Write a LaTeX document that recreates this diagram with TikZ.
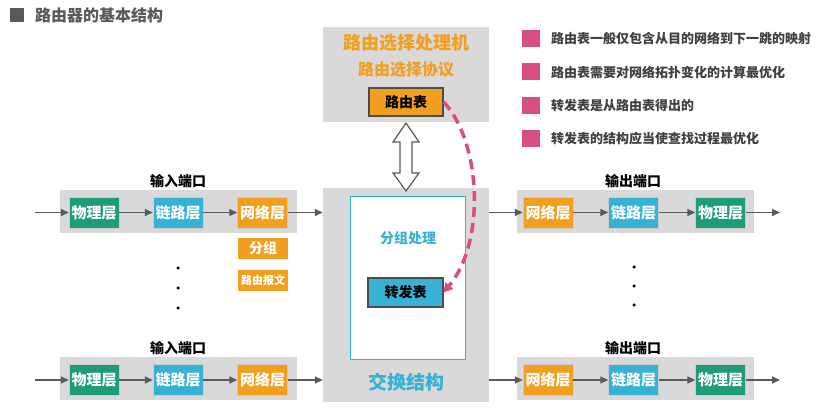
\documentclass[tikz,border=0pt]{standalone}
\usepackage{fontspec}
\setmainfont{Noto Sans CJK SC}
\usetikzlibrary{arrows.meta,calc}
\definecolor{cgreen}{HTML}{1E9B78}
\definecolor{ccyan}{HTML}{37B1D4}
\definecolor{corange}{HTML}{F29F1F}
\definecolor{cgray}{HTML}{D9D9D9}
\definecolor{cpink}{HTML}{D84E80}
\definecolor{cdark}{HTML}{404040}
\definecolor{carrow}{HTML}{5A5A5A}
\tikzset{
  port/.style={fill=cgray,draw=none,minimum width=237pt,minimum height=43pt,inner sep=0pt},
  layer/.style={draw=white!80!black,line width=0.4pt,text=white,font=\fontsize{15}{15}\selectfont\bfseries,minimum width=50pt,minimum height=31pt,inner sep=0pt},
  phy/.style={layer,fill=cgreen},
  lnk/.style={layer,fill=ccyan},
  net/.style={layer,fill=corange},
  plabel/.style={font=\fontsize{14}{14}\selectfont\bfseries,text=black,inner sep=0pt},
  arr/.style={draw=carrow,line width=1.6pt,-{Triangle[length=8pt,width=7pt]}},
  dotm/.style={circle,fill=black,inner sep=0pt,minimum size=3.5pt},
  bsq/.style={fill=cpink,minimum width=18pt,minimum height=17pt,inner sep=0pt},
  btxt/.style={anchor=west,text=cdark,font=\fontsize{13}{13}\selectfont\bfseries,inner sep=0pt},
  tbl/.style={draw=black!70,line width=1.2pt,font=\fontsize{14}{14}\selectfont\bfseries,text=black,inner sep=0pt},
  small/.style={fill=corange,text=white,inner sep=0pt,minimum width=50pt,minimum height=21pt}
}
\begin{document}
\begin{tikzpicture}[x=1pt,y=-1pt]
\useasboundingbox (0,0) rectangle (839,414);
% title
\node[fill=black!65,minimum size=14pt,inner sep=0pt] (tsq) at (17,15) {};
\node[anchor=west,text=black!65,font=\fontsize{16}{16}\selectfont\bfseries,inner sep=0pt] (title) at (35,15) {路由器的基本结构};
% routing processor
\node[fill=cgray,minimum width=166pt,minimum height=95pt,inner sep=0pt] (proc) at (406,74.5) {};
\node[text=corange,font=\fontsize{18}{18}\selectfont\bfseries,inner sep=0pt] (proct) at (406,43) {路由选择处理机};
\node[text=corange,font=\fontsize{16}{16}\selectfont\bfseries,inner sep=0pt] (procs) at (406,70) {路由选择协议};
\node[tbl,fill=corange,minimum width=74pt,minimum height=28pt] (rt) at (406,102) {路由表};
% switching fabric
\node[fill=cgray,minimum width=166pt,minimum height=214pt,inner sep=0pt] (fab) at (406,295) {};
\node[fill=white,draw=ccyan,line width=1.5pt,minimum width=115pt,minimum height=163pt,inner sep=0pt] (inner) at (408,278) {};
\node[text=ccyan,font=\fontsize{14}{14}\selectfont\bfseries,inner sep=0pt] (pp) at (408,238) {分组处理};
\node[tbl,fill=ccyan,minimum width=75pt,minimum height=29pt] (ft) at (405.5,292.5) {转发表};
\node[text=ccyan,font=\fontsize{19}{19}\selectfont\bfseries,inner sep=0pt] (fabt) at (406,382) {交换结构};
% hollow double arrow
\draw[draw=black!65,fill=white,line width=1.2pt,line join=miter]
  (406,123) -- (419,142) -- (412,142) -- (412,173) -- (419,173) -- (406,191)
  -- (393,173) -- (400,173) -- (400,142) -- (393,142) -- cycle;
% dashed curve
\draw[cpink,line width=3.5pt,dash pattern=on 10pt off 6pt,-{Triangle[length=9pt,width=10pt]}]
  (rt.east) .. controls (480,140) and (487,240) .. (ft.east);
% input and output ports
\foreach \r/\y/\ly in {1/211.5/181, 2/379/348}{
  \node[port] (inp\r) at (178.5,\y) {};
  \node[plabel] (inl\r) at (178,\ly) {输入端口};
  \node[phy] (iphy\r) at (94,\y+1) {物理层};
  \node[lnk] (ilnk\r) at (178,\y+1) {链路层};
  \node[net] (inet\r) at (262.5,\y+1) {网络层};
  \coordinate (iin\r) at (35,\y+1);
  \draw[arr] (iin\r) -- (iphy\r);
  \draw[arr] (iphy\r) -- (ilnk\r);
  \draw[arr] (ilnk\r) -- (inet\r);
  \draw[arr] (inet\r) -- (inet\r -| fab.west);
  \node[port] (outp\r) at (635,\y) {};
  \node[plabel] (outl\r) at (633,\ly) {输出端口};
  \node[net] (onet\r) at (548,\y+1) {网络层};
  \node[lnk] (olnk\r) at (633.5,\y+1) {链路层};
  \node[phy] (ophy\r) at (720.5,\y+1) {物理层};
  \coordinate (oout\r) at (780,\y+1);
  \draw[arr] (onet\r -| fab.east) -- (onet\r);
  \draw[arr] (onet\r) -- (olnk\r);
  \draw[arr] (olnk\r) -- (ophy\r);
  \draw[arr] (ophy\r) -- (oout\r);
}
\node[small,font=\fontsize{14}{14}\selectfont\bfseries] (grp) at (263,248.5) {分组};
\node[small,font=\fontsize{11}{11}\selectfont\bfseries] (rmsg) at (263,280.5) {路由报文};
% dots
\node[dotm] (d1) at (178,268) {};
\node[dotm] (d2) at (178,288) {};
\node[dotm] (d3) at (178,308) {};
\node[dotm] (e1) at (634,267) {};
\node[dotm] (e2) at (634,286) {};
\node[dotm] (e3) at (634,305) {};
% bullets
\node[bsq] (b1) at (531,38.5) {};
\node[btxt] (t1) at (551,38.5) {路由表一般仅包含从目的网络到下一跳的映射};
\node[bsq] (b2) at (531,72) {};
\node[btxt] (t2) at (551,72) {路由表需要对网络拓扑变化的计算最优化};
\node[bsq] (b3) at (531,105.5) {};
\node[btxt] (t3) at (551,105.5) {转发表是从路由表得出的};
\node[bsq] (b4) at (531,139) {};
\node[btxt] (t4) at (551,139) {转发表的结构应当使查找过程最优化};
\end{tikzpicture}
\end{document}
